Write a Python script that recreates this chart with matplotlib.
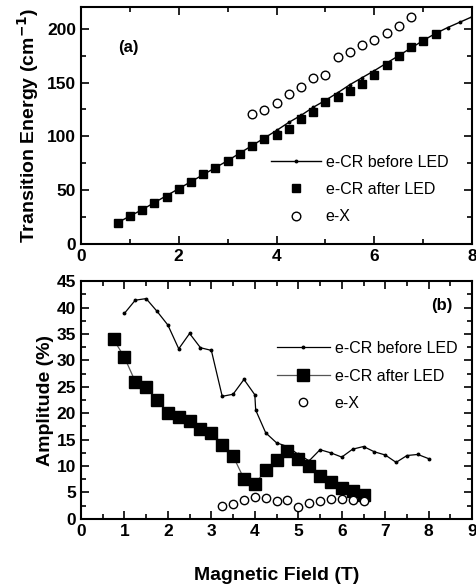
import numpy as np
import matplotlib.pyplot as plt
from matplotlib.ticker import MultipleLocator

plt.rcParams['font.family'] = ['Liberation Sans', 'DejaVu Sans']

# (a) transition energies, cm^-1
b_before_a = [0.75, 1.0, 1.25, 1.5, 1.75, 2.0, 2.25, 2.5, 2.75, 3.0, 3.25, 3.5, 3.75, 4.0,
              4.25, 4.5, 4.75, 5.0, 5.25, 5.5, 5.75, 6.0, 6.25, 6.5, 6.75, 7.0, 7.25, 7.5, 7.75, 8.0]
e_before = [20, 26, 32, 38.5, 45, 51.5, 58, 64.5, 71, 77.5, 84.5, 91.5, 98.5, 105.5,
            113, 119.5, 127, 133.5, 140.5, 148, 154.5, 161, 168, 175, 182, 189, 195.5, 201, 206, 211]

b_after_a = [0.75, 1.0, 1.25, 1.5, 1.75, 2.0, 2.25, 2.5, 2.75, 3.0, 3.25, 3.5, 3.75, 4.0,
             4.25, 4.5, 4.75, 5.0, 5.25, 5.5, 5.75, 6.0, 6.25, 6.5, 6.75, 7.0, 7.25]
e_after = [19.5, 25.7, 31.5, 38.3, 43.6, 51.3, 57.5, 64.9, 71.1, 77.3, 84.1, 90.9, 98.0, 101.1,
           107.3, 116.2, 123.0, 132.3, 136.9, 142.5, 149.0, 156.7, 166.3, 175.0, 182.7, 188.6, 195.1]

b_ex_a = [3.5, 3.75, 4.0, 4.25, 4.5, 4.75, 5.0, 5.25, 5.5, 5.75, 6.0, 6.25, 6.5, 6.75]
e_ex = [120.6, 124.6, 130.8, 139.1, 145.9, 154.2, 156.7, 173.4, 178.3, 184.5, 189.5, 196.3, 202.5, 210.5]

# (b) amplitudes, %
b_before_b = [1.0, 1.25, 1.5, 1.75, 2.0, 2.25, 2.5, 2.75, 3.0, 3.25, 3.5, 3.75, 4.0, 4.02,
              4.25, 4.5, 4.75, 5.0, 5.25, 5.5, 5.75, 6.0, 6.25, 6.5, 6.75, 7.0, 7.25, 7.5, 7.75, 8.0]
amp_before = [38.9, 41.4, 41.7, 39.3, 36.7, 32.2, 35.1, 32.4, 31.9, 23.2, 23.6, 26.4, 23.5, 20.6,
              16.3, 14.4, 13.7, 12.2, 11.0, 13.1, 12.5, 11.7, 13.2, 13.7, 12.7, 12.1, 10.7, 12.0, 12.2, 11.4]

b_after_b = [0.75, 1.0, 1.25, 1.5, 1.75, 2.0, 2.25, 2.5, 2.75, 3.0, 3.25, 3.5, 3.75, 4.0,
             4.25, 4.5, 4.75, 5.0, 5.25, 5.5, 5.75, 6.0, 6.25, 6.5]
amp_after = [34.0, 30.6, 26.0, 25.0, 22.5, 20.0, 19.2, 18.6, 17.0, 16.2, 14.0, 11.9, 7.6, 6.6,
             9.2, 11.2, 12.9, 11.4, 10.0, 8.1, 7.0, 5.9, 5.2, 4.5]

b_ex_b = [3.25, 3.5, 3.75, 4.0, 4.25, 4.5, 4.75, 5.0, 5.25, 5.5, 5.75, 6.0, 6.25, 6.5]
amp_ex = [2.4, 2.8, 3.6, 4.2, 4.0, 3.4, 3.5, 2.2, 3.1, 3.4, 3.8, 3.7, 3.6, 3.4]

fig = plt.figure(figsize=(4.76, 5.87), dpi=100)
ax1 = fig.add_axes([0.170, 0.584, 0.822, 0.404])
ax2 = fig.add_axes([0.170, 0.116, 0.822, 0.405])


def style_axes(ax):
    for s in ax.spines.values():
        s.set_linewidth(1.5)
    ax.tick_params(which='both', direction='in', top=True, right=True, width=1.2)
    ax.tick_params(which='major', length=6)
    ax.tick_params(which='minor', length=3.5)
    for lab in ax.get_xticklabels() + ax.get_yticklabels():
        lab.set_fontsize(12.5)
        lab.set_fontweight('bold')


# panel (a)
ax1.plot(b_before_a, e_before, '-', color='black', lw=1.0, marker='o', ms=1.8,
         label='e-CR before LED')
ax1.plot(b_after_a, e_after, 's', color='black', ms=6, ls='none', label='e-CR after LED')
ax1.plot(b_ex_a, e_ex, 'o', mfc='white', mec='black', mew=1.0, ms=6.2, ls='none', label='e-X')
ax1.set_xlim(0, 8)
ax1.set_ylim(0, 220)
ax1.xaxis.set_major_locator(MultipleLocator(2))
ax1.xaxis.set_minor_locator(MultipleLocator(1))
ax1.yaxis.set_major_locator(MultipleLocator(50))
ax1.yaxis.set_minor_locator(MultipleLocator(25))
style_axes(ax1)
ax1.set_ylabel('Transition Energy (cm$^{\\mathbf{-1}}$)', fontsize=14, fontweight='bold', labelpad=4)
ax1.text(0.095, 0.81, '(a)', transform=ax1.transAxes, fontsize=12, fontweight='bold')
ax1.legend(loc='upper left', bbox_to_anchor=(0.47, 0.405), frameon=False, fontsize=11.5,
           handlelength=3.1, handletextpad=0.3, labelspacing=0.78, borderaxespad=0)

# panel (b)
ax2.plot(b_before_b, amp_before, '-', color='black', lw=0.9, marker='o', ms=1.8,
         label='e-CR before LED')
ax2.plot(b_after_b, amp_after, '-', color='#555555', lw=0.9, marker='s', ms=8,
         mfc='black', mec='black', label='e-CR after LED')
ax2.plot(b_ex_b, amp_ex, 'o', mfc='white', mec='black', mew=1.0, ms=6, ls='none', label='e-X')
ax2.set_xlim(0, 9)
ax2.set_ylim(0, 45)
ax2.xaxis.set_major_locator(MultipleLocator(1))
ax2.xaxis.set_minor_locator(MultipleLocator(0.5))
ax2.yaxis.set_major_locator(MultipleLocator(5))
ax2.yaxis.set_minor_locator(MultipleLocator(2.5))
style_axes(ax2)
ax2.set_ylabel('Amplitude (%)', fontsize=14, fontweight='bold', labelpad=2)
ax2.set_xlabel('Magnetic Field (T)', fontsize=14, fontweight='bold', labelpad=20)
ax2.text(0.895, 0.88, '(b)', transform=ax2.transAxes, fontsize=12, fontweight='bold')
ax2.legend(loc='upper left', bbox_to_anchor=(0.485, 0.775), frameon=False, fontsize=11.5,
           handlelength=3.3, handletextpad=0.3, labelspacing=0.78, borderaxespad=0)

fig.savefig('out.png', dpi=100)
plt.close(fig)
